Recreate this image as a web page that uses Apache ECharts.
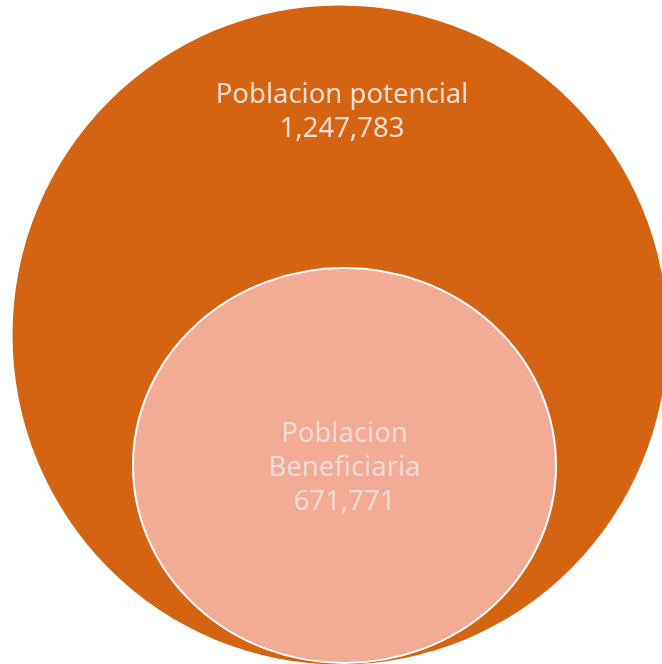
<!DOCTYPE html>
<html>
<head>
<meta charset="utf-8">
<script src="https://cdn.jsdelivr.net/npm/echarts@6/dist/echarts.min.js"></script>
<style>html,body{margin:0;padding:0;background:#fff}#c{width:662px;height:664px}</style>
</head>
<body>
<div id="c"></div>
<script>
const categories = ['Poblacion potencial', 'Poblacion Beneficiaria'];
const values = [1247783, 671771];
const labelLines = [['Poblacion potencial'], ['Poblacion', 'Beneficiaria']];

const fmt = v => v.toLocaleString('en-US');
const chart = echarts.init(document.getElementById('c'), null, {renderer: 'canvas'});

const layout = [
  {pos: [340, 335], size: [655, 659], color: '#D56412', border: 0, text: '#F6DED2', offset: [2, -223]},
  {pos: [344.5, 465.5], size: [423, 395], color: '#F2AB95', border: 2, text: '#EFDCD6', offset: [0, 3]}
];

chart.setOption({
  animation: false,
  grid: {left: 0, right: 0, top: 0, bottom: 0},
  xAxis: {type: 'value', min: 0, max: 662, show: false},
  yAxis: {type: 'value', min: 0, max: 664, inverse: true, show: false},
  series: categories.map((name, i) => ({
    type: 'scatter',
    clip: false,
    silent: true,
    symbol: 'circle',
    symbolSize: layout[i].size,
    z: 2 + i,
    itemStyle: {color: layout[i].color, borderColor: '#ffffff', borderWidth: layout[i].border, opacity: 1},
    label: {
      show: true,
      position: 'inside',
      offset: layout[i].offset,
      color: layout[i].text,
      fontFamily: 'Noto Sans',
      fontSize: 27.5,
      lineHeight: 34,
      align: 'center',
      formatter: () => labelLines[i].concat([fmt(values[i])]).join('\n')
    },
    data: [{name: name, value: layout[i].pos.concat([values[i]])}]
  }))
});
</script>
</body>
</html>
